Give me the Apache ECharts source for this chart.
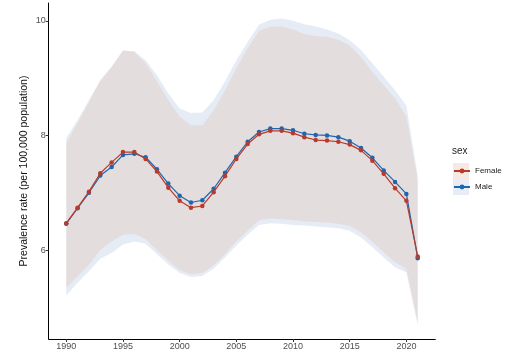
<!DOCTYPE html>
<html><head><meta charset="utf-8">
<script src="https://cdn.jsdelivr.net/npm/echarts@6/dist/echarts.min.js"></script>
<style>html,body{margin:0;padding:0;background:#fff}#c{width:512px;height:356px}</style>
</head><body><div id="c"></div>
<script>
const years = [1990,1991,1992,1993,1994,1995,1996,1997,1998,1999,2000,2001,2002,2003,2004,2005,2006,2007,2008,2009,2010,2011,2012,2013,2014,2015,2016,2017,2018,2019,2020,2021];
const femaleVal = [6.47,6.74,7.02,7.34,7.53,7.71,7.71,7.59,7.37,7.09,6.86,6.74,6.77,7.01,7.29,7.59,7.85,8.02,8.08,8.08,8.04,7.97,7.92,7.91,7.89,7.84,7.74,7.56,7.33,7.08,6.86,5.89];
const maleVal   = [6.46,6.73,7.00,7.30,7.45,7.66,7.68,7.62,7.41,7.16,6.95,6.83,6.87,7.07,7.35,7.63,7.89,8.06,8.12,8.12,8.09,8.03,8.01,8.00,7.97,7.90,7.78,7.61,7.39,7.19,6.98,5.86];
const femaleUpper = [7.87,8.22,8.58,8.97,9.20,9.48,9.46,9.26,8.94,8.62,8.33,8.18,8.18,8.44,8.79,9.17,9.52,9.82,9.90,9.90,9.85,9.77,9.73,9.72,9.67,9.57,9.37,9.11,8.88,8.65,8.33,7.22];
const femaleLower = [5.34,5.54,5.74,6.00,6.15,6.27,6.28,6.19,6.00,5.82,5.65,5.58,5.60,5.73,5.93,6.15,6.34,6.52,6.55,6.54,6.52,6.50,6.49,6.48,6.46,6.42,6.31,6.14,5.96,5.79,5.67,4.74];
const maleUpper = [7.96,8.27,8.62,8.95,9.20,9.48,9.47,9.31,9.05,8.73,8.47,8.39,8.40,8.62,8.94,9.31,9.63,9.93,10.02,10.04,10.00,9.94,9.90,9.85,9.78,9.66,9.49,9.26,9.03,8.79,8.52,7.30];
const maleLower = [5.21,5.43,5.63,5.85,5.95,6.10,6.15,6.11,5.93,5.75,5.60,5.53,5.55,5.68,5.87,6.08,6.27,6.44,6.47,6.46,6.44,6.43,6.41,6.40,6.38,6.34,6.22,6.05,5.87,5.70,5.61,4.69];
const xTicks = [1990,1995,2000,2005,2010,2015,2020];
const yTicks = [6,8,10];
const seriesNames = ['Female','Male'];
const legendTitle = 'sex';
const yTitle = 'Prevalence rate (per 100,000 population)';

const FONT = 'Liberation Sans, Arial, sans-serif';
const RED = '#B93A2A', BLUE = '#1F66AD';
const MALE_FILL = 'rgba(5,65,165,0.10)';
const FEMALE_FILL = 'rgba(223,143,86,0.15)';

const pairs = (arr) => years.map((y, i) => [y, arr[i]]);

function band(lo, up, fill) {
  return {
    type: 'custom', silent: true, z: 1,
    data: [[years[0], lo[0]]],
    renderItem: (params, api) => {
      const pts = [];
      for (let i = 0; i < years.length; i++) pts.push(api.coord([years[i], up[i]]));
      for (let i = years.length - 1; i >= 0; i--) pts.push(api.coord([years[i], lo[i]]));
      return { type: 'polygon', shape: { points: pts }, style: { fill: fill } };
    }
  };
}

const chart = echarts.init(document.getElementById('c'), null, { renderer: 'canvas' });
chart.setOption({
  animation: false,
  backgroundColor: '#fff',
  title: { text: legendTitle, left: 452, top: 146, padding: 0,
    textStyle: { fontSize: 10, fontWeight: 'normal', color: '#222', fontFamily: FONT } },
  graphic: [
    { type: 'rect', left: 453, top: 163, shape: { width: 16, height: 16 }, style: { fill: '#f6e8e3' }, z: 0 },
    { type: 'rect', left: 453, top: 179, shape: { width: 16, height: 16 }, style: { fill: '#e7ecf6' }, z: 0 }
  ],
  legend: { data: seriesNames, orient: 'vertical', left: 453, top: 163, padding: 0,
    itemWidth: 16, itemHeight: 6, itemGap: 0, z: 5,
    textStyle: { fontSize: 8, lineHeight: 16, color: '#222', fontFamily: FONT } },
  grid: { left: 48.7, right: 76.7, top: 3, bottom: 17, containLabel: false },
  xAxis: {
    type: 'value', min: 1988.45, max: 2022.55,
    splitLine: { show: false },
    axisLine: { lineStyle: { color: '#000', width: 1 } },
    axisTick: { show: true, length: 3, lineStyle: { color: '#333' }, customValues: xTicks },
    axisLabel: { customValues: xTicks, fontSize: 9, color: '#4d4d4d', margin: 3, fontFamily: FONT,
      formatter: v => String(v) }
  },
  yAxis: {
    type: 'value', min: 4.45, max: 10.31,
    name: yTitle, nameLocation: 'middle', nameGap: 19, nameMoveOverlap: false,
    nameTextStyle: { fontSize: 10.5, color: '#111', fontFamily: FONT },
    splitLine: { show: false },
    axisLine: { show: true, lineStyle: { color: '#000', width: 1 } },
    axisTick: { show: true, length: 3, lineStyle: { color: '#333' }, customValues: yTicks },
    axisLabel: { customValues: yTicks, fontSize: 9, color: '#4d4d4d', margin: 3, fontFamily: FONT,
      formatter: v => String(v) }
  },
  series: [
    band(maleLower, maleUpper, MALE_FILL),
    band(femaleLower, femaleUpper, FEMALE_FILL),
    { name: 'Male', type: 'line', data: pairs(maleVal), color: BLUE,
      symbol: 'circle', symbolSize: 4.5, lineStyle: { width: 1.2, color: BLUE },
      itemStyle: { color: BLUE }, z: 3 },
    { name: 'Female', type: 'line', data: pairs(femaleVal), color: RED,
      symbol: 'circle', symbolSize: 4.5, lineStyle: { width: 1.2, color: RED },
      itemStyle: { color: RED }, z: 4 }
  ]
});
</script></body></html>
